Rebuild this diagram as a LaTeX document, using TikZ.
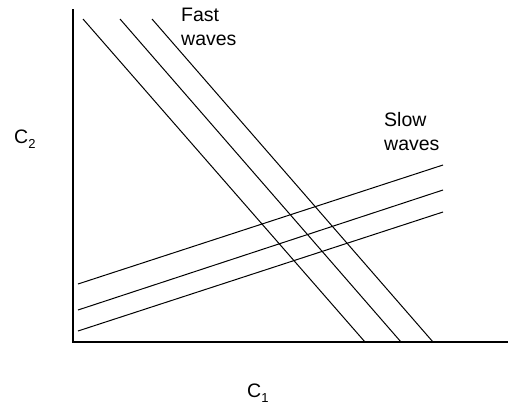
\documentclass[tikz,border=0pt]{standalone}
\usepackage{fontspec}
\setmainfont{Liberation Sans}
\begin{document}
\begin{tikzpicture}[x=1pt,y=-1pt,
  axis/.style={line width=1.1pt},
  wave/.style={line width=1pt},
  lbl/.style={font=\fontsize{19.5}{24}\selectfont, align=left, inner sep=0pt, anchor=north west}]
\useasboundingbox (0,0) rectangle (509,407);
% axes
\coordinate (top) at (73,9);
\coordinate (origin) at (73,342);
\coordinate (right) at (508,342);
\draw[axis] (top) -- (origin) -- (right);
% fast waves
\coordinate (f1a) at (83,19);  \coordinate (f1b) at (365,342);
\coordinate (f2a) at (120,19); \coordinate (f2b) at (401,342);
\coordinate (f3a) at (152,19); \coordinate (f3b) at (433,342);
\draw[wave] (f1a) -- (f1b);
\draw[wave] (f2a) -- (f2b);
\draw[wave] (f3a) -- (f3b);
% slow waves
\coordinate (s1a) at (78,284); \coordinate (s1b) at (443,165);
\coordinate (s2a) at (78,310); \coordinate (s2b) at (443,190);
\coordinate (s3a) at (78,331); \coordinate (s3b) at (443,212);
\draw[wave] (s1a) -- (s1b);
\draw[wave] (s2a) -- (s2b);
\draw[wave] (s3a) -- (s3b);
% labels
\node[lbl] (fast) at (181,7.5) {Fast\\waves};
\node[lbl] (slow) at (384,112.5) {Slow\\waves};
\node[font=\fontsize{19.5}{19.5}\selectfont, inner sep=0pt, anchor=base west] (c2) at (14,143) {C\raisebox{-5pt}{\fontsize{13}{13}\selectfont 2}};
\node[font=\fontsize{19.5}{19.5}\selectfont, inner sep=0pt, anchor=base west] (c1) at (247,397) {C\raisebox{-5pt}{\fontsize{13}{13}\selectfont 1}};
\end{tikzpicture}
\end{document}
